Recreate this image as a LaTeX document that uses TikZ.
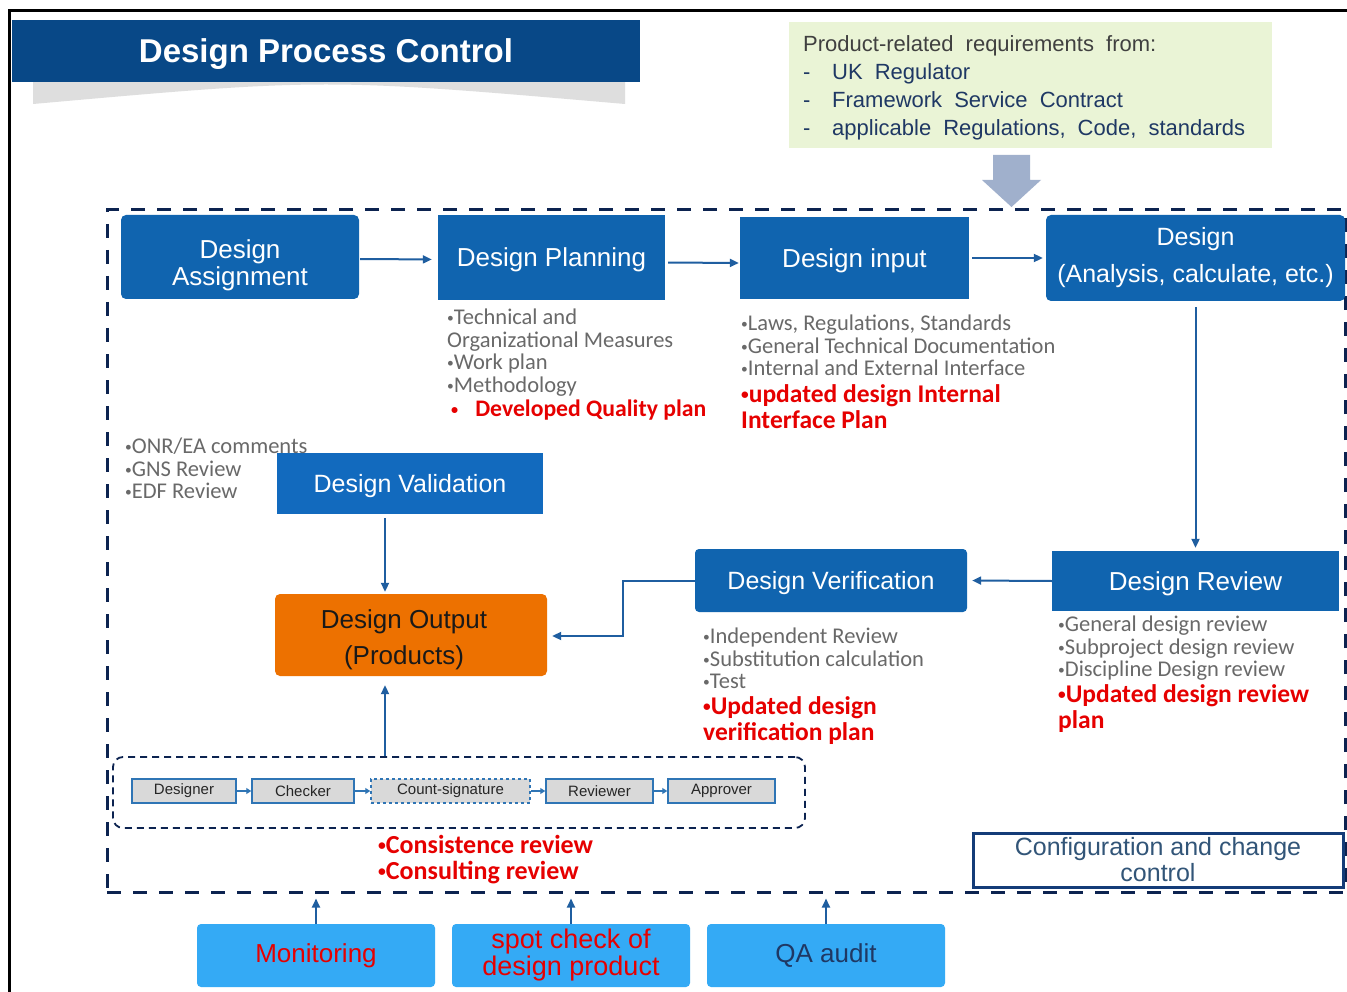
\documentclass[tikz,border=0pt]{standalone}
\usepackage{fontspec}
\setmainfont{Liberation Sans}
\newfontfamily\calfont{Carlito}
\usetikzlibrary{arrows.meta}
\definecolor{titlenavy}{RGB}{8,72,135}
\definecolor{boxblue}{RGB}{16,100,175}
\definecolor{valblue}{RGB}{18,106,190}
\definecolor{outorange}{RGB}{237,113,0}
\definecolor{lightblue}{RGB}{52,170,245}
\definecolor{greenbg}{RGB}{234,244,214}
\definecolor{dashnavy}{RGB}{12,35,80}
\definecolor{arrowblue}{RGB}{31,94,160}
\definecolor{annogray}{RGB}{105,105,105}
\definecolor{annored}{RGB}{230,0,0}
\definecolor{fatarrow}{RGB}{160,176,204}
\definecolor{shadowgray}{RGB}{222,222,222}
\definecolor{reqnavy}{RGB}{31,56,100}
\definecolor{reqgray}{RGB}{64,64,64}
\definecolor{chainborder}{RGB}{47,117,181}
\definecolor{chainfill}{RGB}{217,217,217}
\definecolor{cfgtext}{RGB}{50,85,120}
\definecolor{cfgborder}{RGB}{20,60,120}
\newcommand\widewords{\spaceskip=0.55em\relax}
\newcommand\sbul{\raisebox{0.1em}{\scalebox{0.6}{•}}}
\tikzset{
  bbox/.style={fill=boxblue, text=white, align=center, inner sep=0pt,
    font=\fontsize{26}{27}\selectfont},
  oneline/.style={text height=18.5pt, text depth=0pt},
  plaintext/.style={inner sep=0pt, align=center},
  conn/.style={draw=arrowblue, line width=2pt, -{Triangle[length=9pt,width=8pt]}},
  smallconn/.style={draw=chainborder, line width=1.3pt, -{Triangle[length=5pt,width=6pt]}},
  cbox/.style={fill=chainfill, draw=chainborder, line width=1.5pt, minimum height=24pt,
    inner sep=0pt, text=black!85, font=\fontsize{15}{16}\selectfont},
  lbox/.style={fill=lightblue, rounded corners=4pt, minimum width=238pt, minimum height=63pt,
    inner sep=0pt, align=center, font=\fontsize{26}{27}\selectfont},
  grayanno/.style={anchor=north west, inner sep=0pt, align=left, text=annogray,
    font=\calfont\fontsize{22.5}{22.5}\selectfont},
  redanno/.style={anchor=north west, inner sep=0pt, align=left, text=annored,
    font=\calfont\bfseries\fontsize{25.5}{26}\selectfont},
}
\begin{document}
\begin{tikzpicture}[x=1pt,y=-1pt]
\useasboundingbox (0,0) rectangle (1347,992);
\fill[white] (0,0) rectangle (1347,992);
% outer frame
\draw[line width=3pt] (9.5,992) -- (9.5,11) -- (1347,11);
% title with shadow
\fill[shadowgray] (33,82) -- (625,82) -- (625,104) .. controls (325,78) .. (33,104) -- cycle;
\node[fill=titlenavy, minimum width=628pt, minimum height=62pt, inner sep=0pt, text=white,
  text height=24pt, text depth=0pt,
  font=\bfseries\fontsize{33}{36}\selectfont] (title) at (326,51) {Design Process Control};
% requirements box
\node[fill=greenbg, minimum width=483pt, minimum height=126pt, inner sep=0pt] (req) at (1030.5,85) {};
\node[anchor=north west, inner sep=0pt, align=left, font={\fontsize{22}{28}\selectfont\widewords}]
  (reqtext) at (803,35) {\textcolor{reqgray}{Product-related requirements from:}\\
  \textcolor{reqnavy}{\makebox[29pt][l]{-}UK Regulator}\\
  \textcolor{reqnavy}{\makebox[29pt][l]{-}Framework Service Contract}\\
  \textcolor{reqnavy}{\makebox[29pt][l]{-}applicable Regulations, Code, standards}};
% fat arrow
\fill[fatarrow] (993,155) -- (1030,155) -- (1030,180) -- (1041,180) -- (1011.5,207)
  -- (982,180) -- (993,180) -- cycle;
% dashed process frame
\node[draw=dashnavy, line width=3pt, dash pattern=on 14pt off 12pt, minimum width=1238pt,
  minimum height=682pt, inner sep=0pt] (frame) at (726,551) {};
% main boxes
\node[bbox, rounded corners=5pt, minimum width=238pt, minimum height=84pt] (da) at (240,257) {};
\node[plaintext, text=white, font=\fontsize{26}{27}\selectfont] (dat) at ([yshift=-8pt]da.center)
  {Design\\Assignment};
\node[bbox, oneline, minimum width=227pt, minimum height=85pt] (dp) at (551.5,257.5) {Design Planning};
\node[bbox, oneline, minimum width=229pt, minimum height=82pt] (di) at (854.5,258) {Design input};
\node[bbox, rounded corners=5pt, minimum width=299pt, minimum height=86pt,
  font=\fontsize{25}{37}\selectfont] (dd) at (1195.5,258) {Design\\(Analysis, calculate, etc.)};
\node[bbox, oneline, fill=valblue, minimum width=266pt, minimum height=61pt,
  font=\fontsize{25}{27}\selectfont, text height=18pt] (dval) at (410,483.5) {Design Validation};
\node[bbox, oneline, rounded corners=4pt, minimum width=272pt, minimum height=63pt,
  font=\fontsize{25}{27}\selectfont, text height=18pt] (dver) at (831,580.5) {Design Verification};
\node[bbox, oneline, minimum width=287pt, minimum height=60pt] (drev) at (1195.5,581) {Design Review};
\node[bbox, fill=outorange, rounded corners=5pt, minimum width=272pt,
  minimum height=82pt] (dout) at (411,635) {};
\node[plaintext, text=black!90, font=\fontsize{26}{36}\selectfont] (doutt)
  at ([xshift=-7pt,yshift=-5pt]dout.center) {Design Output\\(Products)};
% annotations
\node[grayanno] (annp) at (447,309) {\sbul Technical and\\Organizational Measures\\\sbul Work plan\\\sbul Methodology};
\node[redanno, font=\calfont\bfseries\fontsize{23.7}{26}\selectfont] (annpr) at (451,400)
  {\sbul\hspace{17pt}Developed Quality plan};
\node[grayanno] (anni) at (741,315) {\sbul Laws, Regulations, Standards\\\sbul General Technical Documentation\\\sbul Internal and External Interface};
\node[redanno] (annir) at (741,384) {\sbul updated design Internal\\Interface Plan};
\node[grayanno] (annval) at (125,438) {\sbul ONR/EA comments\\\sbul GNS Review\\\sbul EDF Review};
\node[grayanno] (annver) at (703,628) {\sbul Independent Review\\\sbul Substitution calculation\\\sbul Test};
\node[redanno] (annverr) at (703,696) {\sbul Updated design\\verification plan};
\node[grayanno] (annrev) at (1058,616) {\sbul General design review\\\sbul Subproject design review\\\sbul Discipline Design review};
\node[redanno] (annrevr) at (1058,684) {\sbul Updated design review\\plan};
% signature chain
\node[draw=dashnavy, line width=1.8pt, dash pattern=on 7pt off 5pt, rounded corners=10pt,
  minimum width=692pt, minimum height=71pt, inner sep=0pt] (chain) at (459,792.5) {};
\node[cbox, minimum width=104pt] (des) at (184,791) {Designer};
\node[cbox, minimum width=102pt] (chk) at (303,791) {Checker};
\node[cbox, minimum width=159pt, dashed] (cnt) at (450.5,791) {Count-signature};
\node[cbox, minimum width=107pt] (rvw) at (599.5,791) {Reviewer};
\node[cbox, minimum width=107pt] (apv) at (721.5,791) {Approver};
\draw[smallconn] (des) -- (chk);
\draw[smallconn] (chk) -- (cnt);
\draw[smallconn] (cnt) -- (rvw);
\draw[smallconn] (rvw) -- (apv);
\node[anchor=north west, inner sep=0pt, align=left, text=annored,
  font=\calfont\bfseries\fontsize{26}{26}\selectfont] (chainnote) at (378,835) {\sbul Consistence review\\\sbul Consulting review};
% configuration box
\node[draw=cfgborder, line width=3pt, fill=white, minimum width=370pt, minimum height=54pt,
  inner sep=0pt, align=center, text=cfgtext, font=\fontsize{25}{26}\selectfont] (cfg) at (1158,860)
  {Configuration and change\\control};
% bottom boxes
\node[lbox, text=annored] (mon) at (316,955.5) {Monitoring};
\node[lbox, text=annored, font=\fontsize{27}{27}\selectfont] (spot) at (571,955.5) {spot check of\\design product};
\node[lbox, text=reqnavy] (qa) at (826,955.5) {QA audit};
% connectors
\coordinate (cx) at (385,0);
\draw[conn, shorten <=1pt, shorten >=6pt] ([yshift=-2pt]da.east) -- ([yshift=-2pt]dp.west);
\draw[conn, shorten <=3pt, shorten >=1pt] ([yshift=-5pt]dp.east) -- ([yshift=-5pt]di.west);
\draw[conn, shorten <=3pt, shorten >=3pt] (di.east) -- (dd.west);
\draw[conn, shorten <=6pt, shorten >=3pt] (dd.south) -- (drev.north);
\draw[conn, shorten >=5pt] (drev.west) -- (dver.east);
\draw[conn, shorten >=5pt] (dver.west) -- ++(-72,0) |- ([yshift=-1pt]dout.east);
\draw[conn, shorten <=4pt, shorten >=2pt] (dval.south -| cx) -- (dout.north -| cx);
\draw[conn, shorten >=9pt] (chain.north -| cx) -- (dout.south -| cx);
\draw[conn, shorten >=5pt] (mon.north) -- (mon.north |- frame.south);
\draw[conn, shorten >=5pt] (spot.north) -- (spot.north |- frame.south);
\draw[conn, shorten >=5pt] (qa.north) -- (qa.north |- frame.south);
\end{tikzpicture}
\end{document}
